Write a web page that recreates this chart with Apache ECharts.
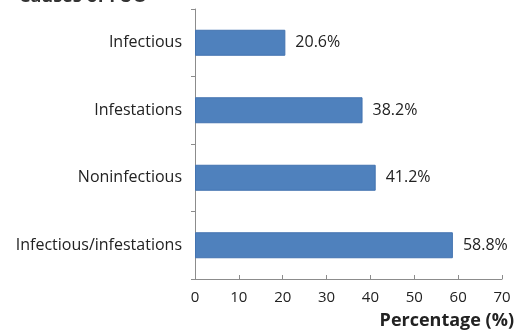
<!DOCTYPE html>
<html>
<head>
<meta charset="utf-8">
<style>
  html, body { margin: 0; padding: 0; background: #fff; }
  #chart { width: 515px; height: 332px; }
</style>
<script src="https://cdn.jsdelivr.net/npm/echarts@6/dist/echarts.min.js"></script>
</head>
<body>
<div id="chart"></div>
<script>
// Causes of fever, share of cases (%)
const categories = ['Infectious', 'Infestations', 'Noninfectious', 'Infectious/infestations'];
const percentages = [20.6, 38.2, 41.2, 58.8];
const xTicks = { min: 0, max: 70, interval: 10 };
const xAxisTitle = 'Percentage (%)';
const chartTitle = 'Causes of FUO';

const font = 'Open Sans';
const chart = echarts.init(document.getElementById('chart'), null, { renderer: 'canvas' });

chart.setOption({
  animation: false,
  backgroundColor: '#ffffff',
  title: {
    text: chartTitle,
    left: 14,
    top: -17,
    textStyle: { fontFamily: font, fontSize: 18, fontWeight: 'bold', color: '#333' }
  },
  grid: { left: 195, right: 13, top: 9, bottom: 53, containLabel: false },
  xAxis: {
    type: 'value',
    min: xTicks.min,
    max: xTicks.max,
    interval: xTicks.interval,
    axisLine: { show: true, lineStyle: { color: '#8c8c8c', width: 1 } },
    axisTick: { show: true, inside: true, length: 4, lineStyle: { color: '#8c8c8c' } },
    axisLabel: { fontFamily: font, fontSize: 15, color: '#222', margin: 11 },
    splitLine: { show: false }
  },
  yAxis: {
    type: 'category',
    data: categories,
    inverse: true,
    axisLine: { show: true, lineStyle: { color: '#8c8c8c', width: 1 } },
    axisTick: { show: true, length: 4, alignWithLabel: false, lineStyle: { color: '#8c8c8c' } },
    axisLabel: { fontFamily: font, fontSize: 16, color: '#222', margin: 13 }
  },
  graphic: [{
    type: 'text',
    right: 1,
    bottom: 2,
    style: {
      text: xAxisTitle,
      fontFamily: font, fontSize: 18, fontWeight: 'bold', fill: '#222'
    }
  }],
  series: [{
    type: 'bar',
    data: percentages,
    barWidth: 26,
    itemStyle: { color: '#4f81bd', borderColor: '#4373b0', borderWidth: 1 },
    label: {
      show: true,
      position: 'right',
      distance: 10,
      formatter: p => p.value.toFixed(1) + '%',
      fontFamily: font, fontSize: 16, color: '#222'
    }
  }]
});
</script>
</body>
</html>
